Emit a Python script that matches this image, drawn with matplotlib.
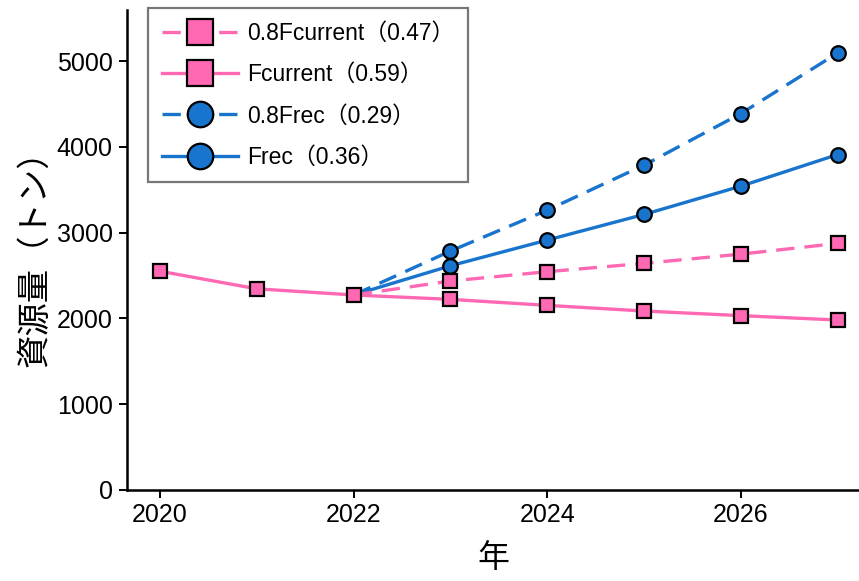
import matplotlib
matplotlib.use('Agg')
import matplotlib.pyplot as plt
import numpy as np

plt.rcParams['font.family'] = ['Liberation Sans', 'Noto Sans CJK JP']

# Data
years_hist = [2020, 2021, 2022]
biomass_hist = [2550, 2345, 2273]

years_proj = [2022, 2023, 2024, 2025, 2026, 2027]
fcurrent_08 = [2273, 2436, 2545, 2642, 2750, 2875]
fcurrent = [2273, 2222, 2152, 2086, 2032, 1981]
frec_08 = [2273, 2786, 3263, 3788, 4390, 5097]
frec = [2273, 2614, 2914, 3213, 3543, 3912]

labels = ['0.8Fcurrent（0.47）', 'Fcurrent（0.59）', '0.8Frec（0.29）', 'Frec（0.36）']

pink = '#ff69b4'
blue = '#1874cd'


def main():
    fig = plt.figure(figsize=(8.59, 5.81), dpi=100)
    ax = fig.add_axes([0.148, 0.157, 0.852, 0.826])

    mk = dict(markersize=10.5, markeredgecolor='black', markeredgewidth=1.6)
    dash = (0, (5.5, 3))
    lw = 2.4

    # blue projections underneath the pink ones
    l3, = ax.plot(years_proj, frec_08, color=blue, linestyle=dash, linewidth=lw,
                  marker='o', markerfacecolor=blue, markevery=slice(1, None), zorder=2, **mk)
    l4, = ax.plot(years_proj, frec, color=blue, linestyle='-', linewidth=lw,
                  marker='o', markerfacecolor=blue, markevery=slice(1, None), zorder=2, **mk)
    l1, = ax.plot(years_proj, fcurrent_08, color=pink, linestyle=dash, linewidth=lw,
                  marker='s', markerfacecolor=pink, markevery=slice(1, None), zorder=3, **mk)
    l2, = ax.plot(years_proj, fcurrent, color=pink, linestyle='-', linewidth=lw,
                  marker='s', markerfacecolor=pink, markevery=slice(1, None), zorder=3, **mk)
    ax.plot(years_hist, biomass_hist, color=pink, linestyle='-', linewidth=lw,
            marker='s', markerfacecolor=pink, zorder=4, **mk)

    ax.set_xlim(2019.66, 2027.22)
    ax.set_ylim(0, 5600)
    ax.set_xticks([2020, 2022, 2024, 2026])
    ax.set_yticks([0, 1000, 2000, 3000, 4000, 5000])

    for s in ['top', 'right']:
        ax.spines[s].set_visible(False)
    for s in ['left', 'bottom']:
        ax.spines[s].set_linewidth(1.8)
    ax.tick_params(direction='out', length=5.5, width=1.4, labelsize=18, pad=4)
    ax.tick_params(axis='y', pad=5)

    ax.set_xlabel('年', fontsize=23, family=['Noto Sans CJK JP'], labelpad=11)
    ax.set_ylabel('資源量（トン）', fontsize=24, family=['Noto Sans CJK JP'], labelpad=3)

    leg = ax.legend([l1, l2, l3, l4], labels, loc='upper left',
                    bbox_to_anchor=(0.0287, 1.004), borderaxespad=0,
                    fontsize=16.5, frameon=True, markerscale=1.75,
                    fancybox=False, edgecolor='#555555', handlelength=3.3,
                    labelspacing=0.8, borderpad=0.6, handletextpad=0.42)
    leg.get_frame().set_linewidth(1.6)

    fig.savefig('out.png', dpi=100)


if __name__ == '__main__':
    main()
